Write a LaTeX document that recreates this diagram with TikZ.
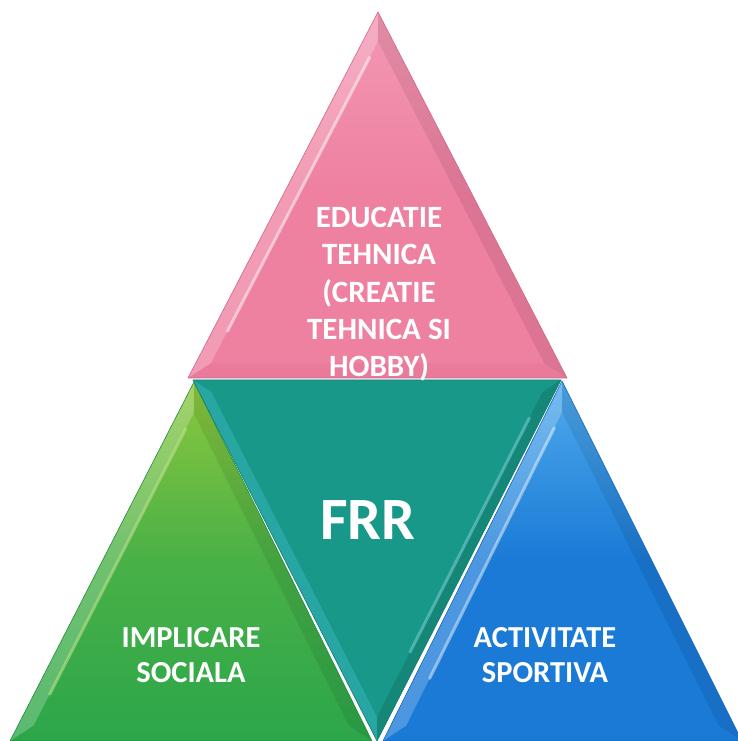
\documentclass[tikz,border=0pt]{standalone}
\usepackage{fontspec}
\setmainfont{Carlito}
\usetikzlibrary{calc}
\definecolor{pinkC}{RGB}{238,128,160}
\definecolor{pinkL}{RGB}{243,152,180}
\definecolor{pinkD}{RGB}{214,100,135}
\definecolor{tealC}{RGB}{24,152,136}
\definecolor{tealL}{RGB}{60,185,200}
\definecolor{tealD}{RGB}{20,128,116}
\definecolor{greenC}{RGB}{44,166,74}
\definecolor{greenL}{RGB}{140,200,62}
\definecolor{greenD}{RGB}{34,140,60}
\definecolor{blueC}{RGB}{26,122,214}
\definecolor{blueL}{RGB}{80,170,236}
\definecolor{blueD}{RGB}{20,100,190}
\tikzset{
  lbl/.style={text=white, font=\bfseries\fontsize{30}{36}\selectfont, align=center, inner sep=0pt, anchor=north},
  bandlight/.style={fill=white, fill opacity=0.22, draw=none},
  banddark/.style={fill=black, fill opacity=0.08, draw=none},
  streak/.style={draw=white, line width=3pt, opacity=0.35, line cap=round},
}
\begin{document}
\begin{tikzpicture}[x=1pt,y=1pt]
\useasboundingbox (0,0) rectangle (738,741);
\fill[white] (0,0) rectangle (738,741);

% ---------- vertices ----------
\coordinate (PA) at (378,729);
\coordinate (PB) at (188,363);
\coordinate (PC) at (567,363);
\coordinate (TL) at (193,361);
\coordinate (TR) at (561,361);
\coordinate (TB) at (377,0);
\coordinate (GA) at (194,359);
\coordinate (GB) at (10,0);
\coordinate (GC) at (372,0);
\coordinate (BA) at (562,360);
\coordinate (BB) at (383,0);
\coordinate (BC) at (742,0);

% ---------- green ----------
\shade[top color=greenL, bottom color=greenC, middle color=greenC!70!greenL] (GA) -- (GB) -- (GC) -- cycle;
\coordinate (Gc) at ($1/3*(GA)+1/3*(GB)+1/3*(GC)$);
\coordinate (Ga) at ($(GA)!0.13!(Gc)$);
\coordinate (Gb) at ($(GB)!0.13!(Gc)$);
\coordinate (Gcc) at ($(GC)!0.13!(Gc)$);
\fill[bandlight] (GA) -- (GB) -- (Gb) -- (Ga) -- cycle;
\fill[banddark] (GA) -- (GC) -- (Gcc) -- (Ga) -- cycle;
\draw[streak, draw=greenL!60!white, opacity=0.6] ($(Ga)!0.05!(Gb)$) -- ($(Ga)!0.9!(Gb)$);
\draw[greenD, line width=0.6pt] (GA) -- (GB) -- (GC) -- cycle;

% ---------- blue ----------
\shade[top color=blueL, bottom color=blueC, middle color=blueC] (BA) -- (BB) -- (BC) -- cycle;
\coordinate (Bc) at ($1/3*(BA)+1/3*(BB)+1/3*(BC)$);
\coordinate (Ba) at ($(BA)!0.13!(Bc)$);
\coordinate (Bb) at ($(BB)!0.13!(Bc)$);
\coordinate (Bcc) at ($(BC)!0.13!(Bc)$);
\fill[bandlight] (BA) -- (BB) -- (Bb) -- (Ba) -- cycle;
\fill[banddark] (BA) -- (BC) -- (Bcc) -- (Ba) -- cycle;
\draw[streak, opacity=0.45] ($(Ba)!0.05!(Bb)$) -- ($(Ba)!0.85!(Bb)$);
\draw[blueD, line width=0.6pt] (BA) -- (BB) -- (BC) -- cycle;

% ---------- teal (inverted) ----------
\fill[tealC] (TL) -- (TR) -- (TB) -- cycle;
\coordinate (Tc) at ($1/3*(TL)+1/3*(TR)+1/3*(TB)$);
\coordinate (Tl) at ($(TL)!0.10!(Tc)$);
\coordinate (Tr) at ($(TR)!0.10!(Tc)$);
\coordinate (Tb) at ($(TB)!0.10!(Tc)$);
\fill[tealL, fill opacity=0.45] (TL) -- (TB) -- (Tb) -- (Tl) -- cycle;
\fill[tealD, fill opacity=0.7] (TR) -- (TB) -- (Tb) -- (Tr) -- cycle;
\draw[streak, draw=tealL!60!white, opacity=0.5] ($(Tr)!0.08!(Tb)$) -- ($(Tr)!0.8!(Tb)$);
\draw[tealD, line width=0.6pt] (TL) -- (TR) -- (TB) -- cycle;

% ---------- pink (top) ----------
\shade[top color=pinkL, bottom color=pinkC, middle color=pinkC] (PA) -- (PB) -- (PC) -- cycle;
\coordinate (Pc) at ($1/3*(PA)+1/3*(PB)+1/3*(PC)$);
\coordinate (Pa) at ($(PA)!0.12!(Pc)$);
\coordinate (Pb) at ($(PB)!0.12!(Pc)$);
\coordinate (Pcc) at ($(PC)!0.12!(Pc)$);
\fill[bandlight] (PA) -- (PB) -- (Pb) -- (Pa) -- cycle;
\fill[banddark] (PA) -- (PC) -- (Pcc) -- (Pa) -- cycle;
\fill[pinkD, fill opacity=0.2] (PB) -- (PC) -- (Pcc) -- (Pb) -- cycle;
\draw[streak, opacity=0.5] ($(Pa)!0.05!(Pb)$) -- ($(Pa)!0.9!(Pb)$);
\draw[pinkD, line width=0.6pt] (PA) -- (PB) -- (PC) -- cycle;

% ---------- labels ----------
\node[lbl, font=\bfseries\fontsize{31}{37.3}\selectfont] (top) at (379,534)
  {EDUCATIE\\TEHNICA\\(CREATIE\\TEHNICA SI\\HOBBY)};
\node[lbl, font=\bfseries\fontsize{60}{66}\selectfont] (frr) at (368,241) {FRR};
\node[lbl, font=\bfseries\fontsize{30.5}{35}\selectfont] (left) at (191,114) {IMPLICARE\\SOCIALA};
\node[lbl, font=\bfseries\fontsize{30.5}{35}\selectfont] (right) at (545,114) {ACTIVITATE\\SPORTIVA};
\end{tikzpicture}
\end{document}
